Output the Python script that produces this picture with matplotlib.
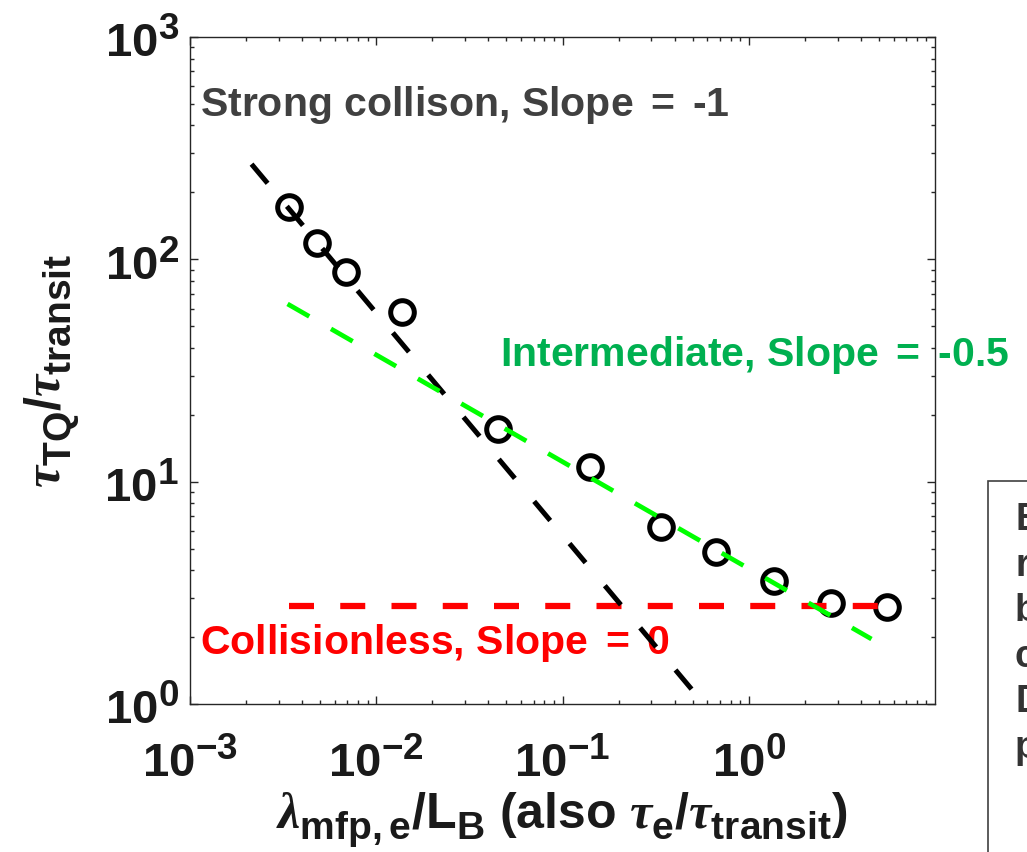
import numpy as np
import matplotlib
matplotlib.use('Agg')
import matplotlib.pyplot as plt
import matplotlib._mathtext as mathtext_mod
from matplotlib.ticker import FuncFormatter, LogLocator, NullFormatter
from matplotlib.patches import Rectangle

# TQ time vs electron mean free path, normalised
lam_ratio = [0.00341, 0.00482, 0.00687, 0.0137, 0.045, 0.141, 0.337, 0.671, 1.37, 2.75, 5.55]
tq_ratio = [172, 118, 87.7, 58, 17.2, 11.6, 6.25, 4.82, 3.57, 2.84, 2.73]

# guide lines (end points)
strong_x = [0.00214, 0.575]
strong_y = [268, 1.0]
inter_x = [0.00334, 4.56]
inter_y = [63, 1.96]
colless_x = [0.00341, 5.55]
colless_y = [2.75, 2.75]

box_lines = ['E', 're', 'b', 'c', 'D', 'p']

# bigger, lower subscripts, closer to the TeX look of the labels
mathtext_mod.SHRINK_FACTOR = 0.78
mathtext_mod.FontConstantsBase.sub1 = 0.5

plt.rcParams['font.family'] = ['Liberation Sans', 'DejaVu Sans']
plt.rcParams['font.weight'] = 'bold'
plt.rcParams['mathtext.fontset'] = 'custom'
plt.rcParams['mathtext.rm'] = 'Liberation Sans:bold'
plt.rcParams['mathtext.bf'] = 'Liberation Sans:bold'
plt.rcParams['mathtext.it'] = 'Liberation Serif:italic'
plt.rcParams['mathtext.sf'] = 'Liberation Sans'

W, H = 1027, 853
fig = plt.figure(figsize=(W / 100, H / 100), dpi=100)
ax = fig.add_axes([190 / W, 1 - 705 / H, 745 / W, 667 / H])

ax.plot(lam_ratio, tq_ratio, 'o', mfc='none', mec='k', ms=17, mew=3.6, zorder=3)
ax.plot(colless_x, colless_y, color='#ff0000', lw=4.5, dashes=(4.0, 4.2), zorder=4)
ax.plot(strong_x, strong_y, color='k', lw=3.6, dashes=(5, 6), zorder=5)
ax.plot(inter_x, inter_y, color='#00ff00', lw=3.4, dashes=(5.3, 5.3), zorder=6)

ax.set_xscale('log')
ax.set_yscale('log')
ax.set_xlim(1e-3, 1e1)
ax.set_ylim(1, 1e3)
ax.set_xticks([1e-3, 1e-2, 1e-1, 1e0])
ax.set_yticks([1e0, 1e1, 1e2, 1e3])
ax.xaxis.set_minor_locator(LogLocator(base=10, subs=np.arange(2, 10)))
ax.yaxis.set_minor_locator(LogLocator(base=10, subs=np.arange(2, 10)))
pow_fmt = FuncFormatter(lambda v, p: r'$\mathrm{10^{%d}}$' % round(np.log10(v)))
ax.xaxis.set_major_formatter(pow_fmt)
ax.yaxis.set_major_formatter(pow_fmt)
ax.xaxis.set_minor_formatter(NullFormatter())
ax.yaxis.set_minor_formatter(NullFormatter())
ax.tick_params(which='both', direction='in', top=True, right=True, color='#262626', width=1)
ax.tick_params(which='major', length=6, labelsize=34, labelcolor='#1a1a1a')
ax.tick_params(which='minor', length=3)
ax.tick_params(axis='x', pad=24)
ax.tick_params(axis='y', pad=8)
for sp in ax.spines.values():
    sp.set_color('#262626')
    sp.set_linewidth(1)

ax.text(0.013, 0.90, r'Strong collison, Slope $\mathsf{=}$ -1', transform=ax.transAxes,
        fontsize=29.5, color='#404040', va='center', ha='left', zorder=2)
ax.text(0.416, 0.525, r'Intermediate, Slope $\mathsf{=}$ -0.5', transform=ax.transAxes,
        fontsize=29.5, color='#00b050', va='center', ha='left', zorder=2)
ax.text(0.013, 0.093, r'Collisionless, Slope $\mathsf{=}$ 0', transform=ax.transAxes,
        fontsize=29.5, color='#ff0000', va='center', ha='left', zorder=2)

fig.text(52 / W, 1 - 371 / H, r'$\tau_{\mathrm{TQ}}/\tau_{\mathrm{transit}}$',
         rotation=90, fontsize=36, ha='center', va='center', color='#1a1a1a')
fig.text(562 / W, 1 - 829 / H,
         r'$\lambda_{\mathrm{mfp,e}}/\mathrm{L}_{\mathrm{B}}$ (also $\tau_{\mathrm{e}}/\tau_{\mathrm{transit}}$)',
         fontsize=36, ha='center', va='baseline', color='#1a1a1a')

# side note box, running off the page edge
fig.patches.append(Rectangle((988 / W, -0.02), 0.2, 1 - 482 / H + 0.02, transform=fig.transFigure,
                             fc='white', ec='#404040', lw=1.2))
for i, s in enumerate(box_lines):
    fig.text(1015 / W, 1 - (520 + 45.6 * i) / H, s, fontsize=27, color='#333333',
             ha='left', va='center')

fig.savefig('out.png', dpi=100)
